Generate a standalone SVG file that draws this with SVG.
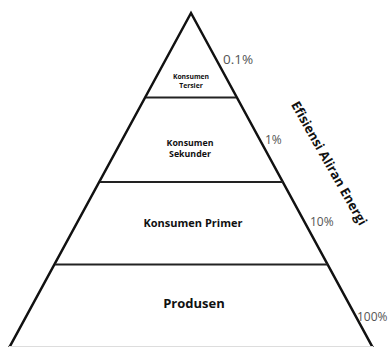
<svg xmlns="http://www.w3.org/2000/svg" width="390" height="347" viewBox="0 0 390 347">
<style>
.edge{stroke:#111;stroke-width:2.5;fill:none;stroke-linecap:round}
.div{stroke:#222;stroke-width:2.2;fill:none}
.lbl{font-family:"Open Sans","Noto Sans",sans-serif;font-weight:bold;fill:#111;text-anchor:middle}
.pct{font-family:"Open Sans","Noto Sans",sans-serif;fill:#555}
</style>
<rect width="390" height="347" fill="#fff"/>
<g id="pyramid">
<path class="edge" d="M9,348 L191,13 L373,348"/>
<line x1="9" y1="346.5" x2="373" y2="346.5" stroke="#ddd" stroke-width="1"/>
</g>
<g id="connectors">
<line class="div" x1="146" y1="97.5" x2="236" y2="97.5"/>
<line class="div" x1="100" y1="182" x2="283" y2="182"/>
<line class="div" x1="55" y1="264.5" x2="328" y2="264.5"/>
</g>
<g id="tersier">
<text class="lbl" x="191" y="79" font-size="6.8">Konsumen</text>
<text class="lbl" x="191" y="87.5" font-size="6.8">Tersier</text>
</g>
<g id="sekunder">
<text class="lbl" x="190" y="145.5" font-size="8.8">Konsumen</text>
<text class="lbl" x="190" y="157" font-size="8.8">Sekunder</text>
</g>
<g id="primer">
<text class="lbl" x="193" y="226.5" font-size="11">Konsumen Primer</text>
</g>
<g id="produsen">
<text class="lbl" x="194" y="307.5" font-size="13">Produsen</text>
</g>
<g id="percentages">
<text class="pct" x="223" y="64" font-size="13.5">0.1%</text>
<text class="pct" x="265" y="143.5" font-size="12">1%</text>
<text class="pct" x="310" y="225.5" font-size="12">10%</text>
<text class="pct" x="357" y="320.5" font-size="12">100%</text>
</g>
<g id="efisiensi">
<text class="lbl" x="0" y="0" font-size="13" dominant-baseline="central" transform="translate(329.5,163) rotate(60.5)">Efisiensi Aliran Energi</text>
</g>
</svg>
